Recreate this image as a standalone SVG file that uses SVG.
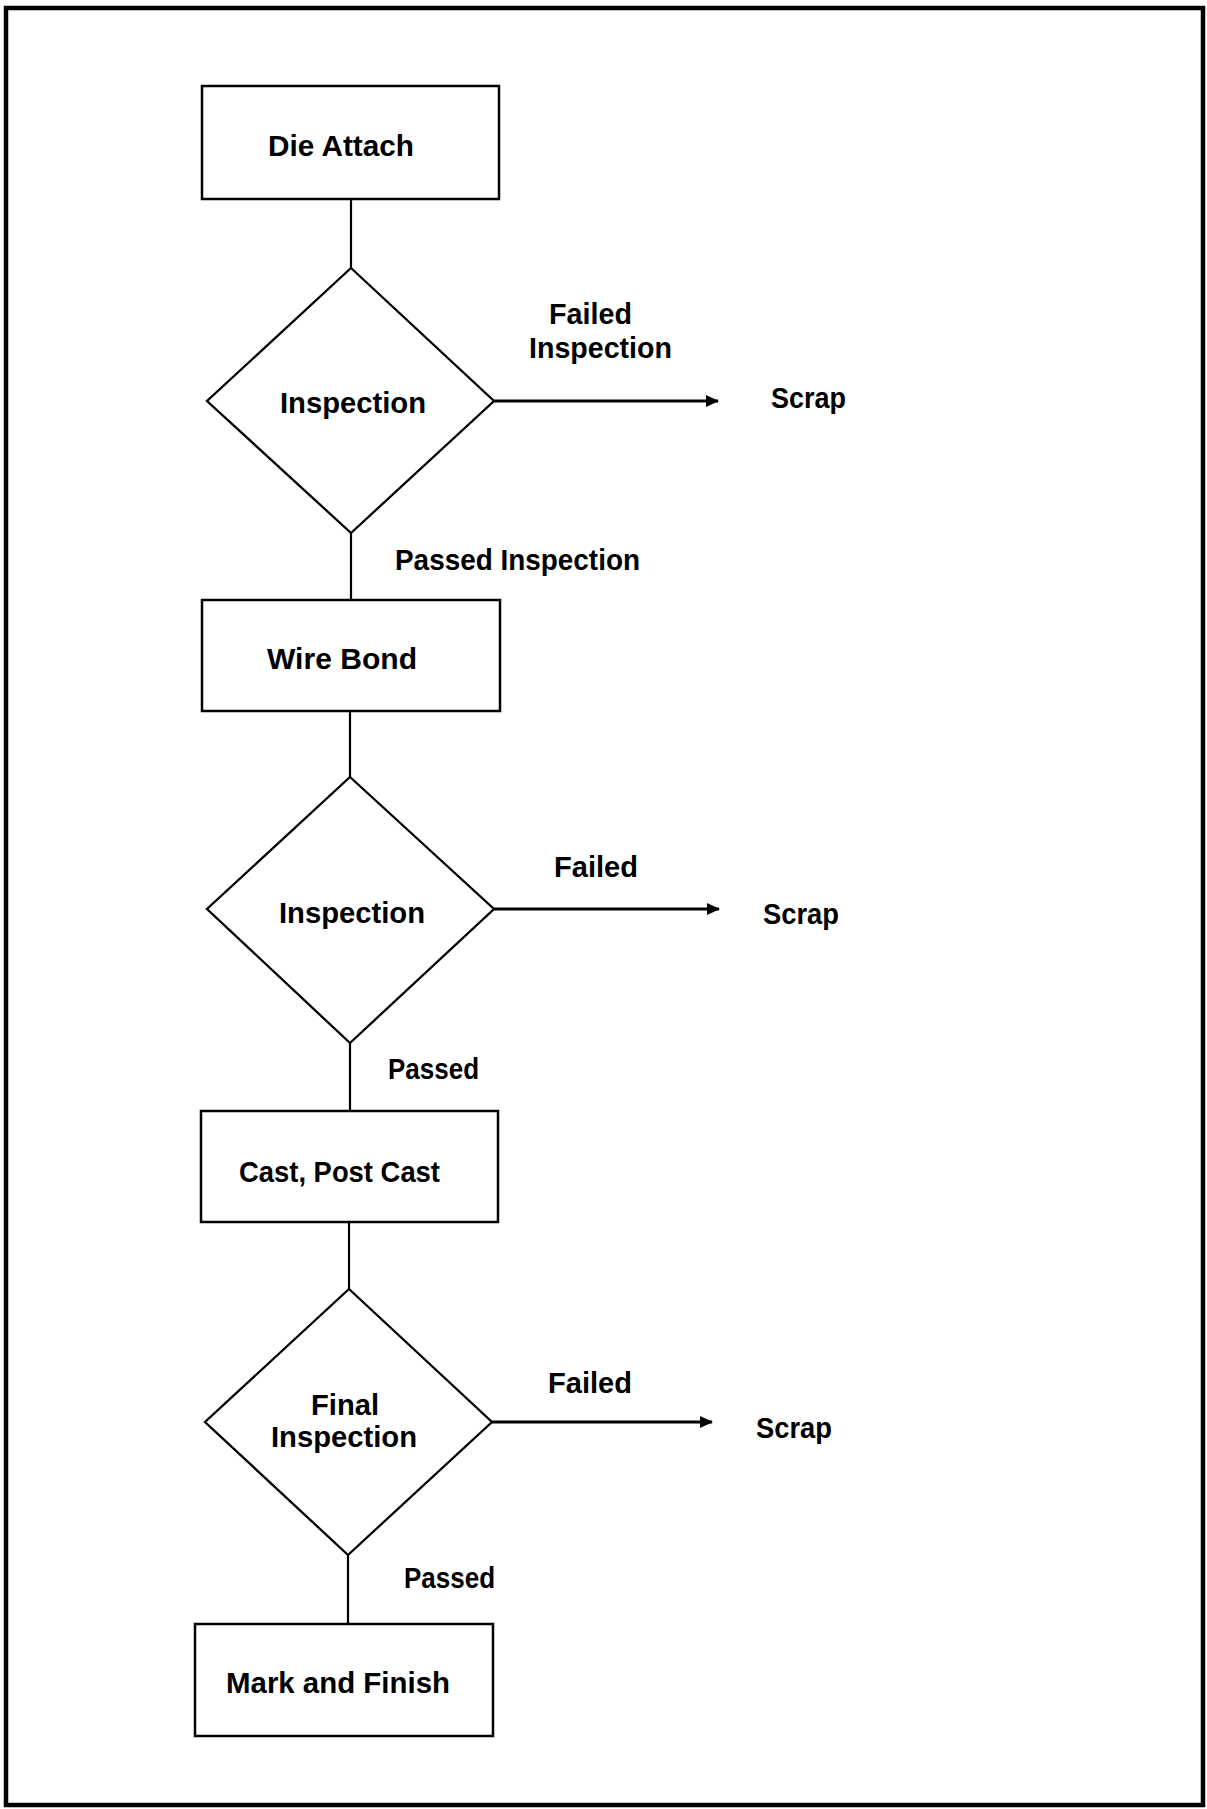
<svg xmlns="http://www.w3.org/2000/svg" width="1207" height="1809" viewBox="0 0 1207 1809">
<style>
.frame{fill:none;stroke:#000;stroke-width:4.5}
.box{fill:#fff;stroke:#000;stroke-width:2.5}
.dia{fill:#fff;stroke:#000;stroke-width:2.3}
.line{fill:none;stroke:#000;stroke-width:2.2}
.arr{fill:none;stroke:#000;stroke-width:3}
text{font-family:"Liberation Sans",Arial,sans-serif;font-size:30px;font-weight:bold;fill:#000}
</style>
<defs>
<marker id="ah" markerWidth="16" markerHeight="16" refX="12" refY="7" orient="auto" markerUnits="userSpaceOnUse">
<path d="M0,1 L13,7 L0,13 Z" fill="#000"/>
</marker>
</defs>
<rect width="1207" height="1809" fill="#fff"/>
<rect class="frame" x="6" y="8" width="1197" height="1797"/>
<g id="connectors">
<line class="line" x1="351" y1="199" x2="351" y2="268"/>
<line class="line" x1="351" y1="533" x2="351" y2="600"/>
<line class="line" x1="350" y1="711" x2="350" y2="777"/>
<line class="line" x1="350" y1="1043" x2="350" y2="1111"/>
<line class="line" x1="349" y1="1222" x2="349" y2="1289"/>
<line class="line" x1="348" y1="1555" x2="348" y2="1624"/>
<line class="arr" x1="494" y1="401" x2="718" y2="401" marker-end="url(#ah)"/>
<line class="arr" x1="494" y1="909" x2="719" y2="909" marker-end="url(#ah)"/>
<line class="arr" x1="492" y1="1422" x2="712" y2="1422" marker-end="url(#ah)"/>
<text x="549" y="324" textLength="83" lengthAdjust="spacingAndGlyphs">Failed</text>
<text x="529" y="358" textLength="143" lengthAdjust="spacingAndGlyphs">Inspection</text>
<text x="395" y="570" textLength="245" lengthAdjust="spacingAndGlyphs">Passed Inspection</text>
<text x="554" y="877" textLength="84" lengthAdjust="spacingAndGlyphs">Failed</text>
<text x="388" y="1079" textLength="91" lengthAdjust="spacingAndGlyphs">Passed</text>
<text x="548" y="1393" textLength="84" lengthAdjust="spacingAndGlyphs">Failed</text>
<text x="404" y="1588" textLength="91" lengthAdjust="spacingAndGlyphs">Passed</text>
</g>
<g id="die-attach">
<rect class="box" x="202" y="86" width="297" height="113"/>
<text x="268" y="156" textLength="146" lengthAdjust="spacingAndGlyphs">Die Attach</text>
</g>
<g id="inspection-1">
<polygon class="dia" points="351,268 494,401 351,533 207,401"/>
<text x="280" y="413" textLength="146" lengthAdjust="spacingAndGlyphs">Inspection</text>
</g>
<g id="scrap-1">
<text x="771" y="408" textLength="75" lengthAdjust="spacingAndGlyphs">Scrap</text>
</g>
<g id="wire-bond">
<rect class="box" x="202" y="600" width="298" height="111"/>
<text x="267" y="669" textLength="150" lengthAdjust="spacingAndGlyphs">Wire Bond</text>
</g>
<g id="inspection-2">
<polygon class="dia" points="350,777 494,909 350,1043 207,909"/>
<text x="279" y="923" textLength="146" lengthAdjust="spacingAndGlyphs">Inspection</text>
</g>
<g id="scrap-2">
<text x="763" y="924" textLength="76" lengthAdjust="spacingAndGlyphs">Scrap</text>
</g>
<g id="cast-post-cast">
<rect class="box" x="201" y="1111" width="297" height="111"/>
<text x="239" y="1182" textLength="201" lengthAdjust="spacingAndGlyphs">Cast, Post Cast</text>
</g>
<g id="final-inspection">
<polygon class="dia" points="349,1289 492,1422 348,1555 205,1422"/>
<text x="311" y="1415" textLength="68" lengthAdjust="spacingAndGlyphs">Final</text>
<text x="271" y="1447" textLength="146" lengthAdjust="spacingAndGlyphs">Inspection</text>
</g>
<g id="scrap-3">
<text x="756" y="1438" textLength="76" lengthAdjust="spacingAndGlyphs">Scrap</text>
</g>
<g id="mark-and-finish">
<rect class="box" x="195" y="1624" width="298" height="112"/>
<text x="226" y="1693" textLength="224" lengthAdjust="spacingAndGlyphs">Mark and Finish</text>
</g>
</svg>
